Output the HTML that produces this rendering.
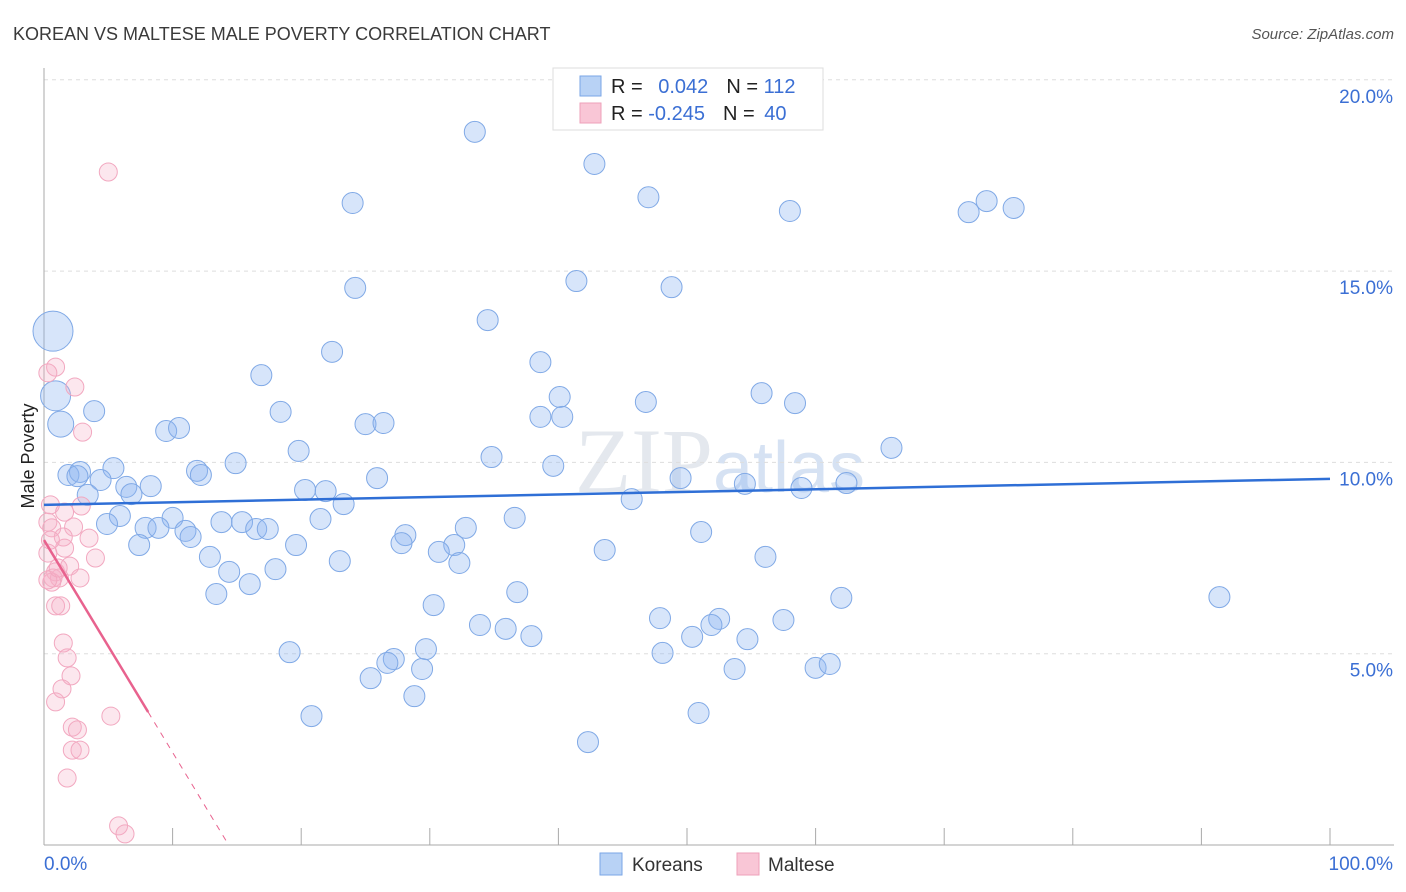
<!DOCTYPE html>
<html><head><meta charset="utf-8"><style>
body{margin:0;background:#fff;font-family:"Liberation Sans",sans-serif;}
svg{display:block}
</style></head><body>
<svg id="chart" width="1406" height="892" xmlns="http://www.w3.org/2000/svg">
<text x="13" y="40" font-size="18" fill="#3a3a3a">KOREAN VS MALTESE MALE POVERTY CORRELATION CHART</text>
<text x="1394" y="39" font-size="15" fill="#555" text-anchor="end" font-style="italic">Source: ZipAtlas.com</text>
<text x="720" y="492" font-size="92" fill="#e4e8ee" text-anchor="middle" font-family="Liberation Serif">ZIP<tspan fill="#d6e2f3" font-family="Liberation Sans" font-size="72">atlas</tspan></text>
<g id="grid"></g><g id="axes"></g><g id="pts"></g><g id="trend"></g>
<text transform="translate(34,456) rotate(-90)" font-size="18" fill="#222" text-anchor="middle">Male Poverty</text>
<g>
<rect x="553" y="68" width="270" height="62" fill="#fff" stroke="#ddd"/>
<rect x="580" y="76" width="21" height="20" fill="#b8d2f5" stroke="#7aa6e6"/>
<rect x="580" y="103" width="21" height="20" fill="#f9c6d6" stroke="#eea0ba"/>
<text x="611" y="93" font-size="20" fill="#222">R = <tspan fill="#3b6fd4" dx="10">0.042</tspan><tspan dx="18" fill="#222">N = </tspan><tspan fill="#3b6fd4">112</tspan></text>
<text x="611" y="120" font-size="20" fill="#222">R = <tspan fill="#3b6fd4">-0.245</tspan><tspan dx="18" fill="#222">N = </tspan><tspan fill="#3b6fd4" dx="4">40</tspan></text>
</g>
<g>
<rect x="600" y="853" width="22" height="22" fill="#b8d2f5" stroke="#7aa6e6"/>
<text x="632" y="871" font-size="19" fill="#333">Koreans</text>
<rect x="737" y="853" width="22" height="22" fill="#f9c6d6" stroke="#eea0ba"/>
<text x="768" y="871" font-size="19" fill="#333">Maltese</text>
</g>
</svg>
<script>
const yTicks=[5,10,15,20];
const yTickLabels=["5.0%","10.0%","15.0%","20.0%"];
const koreanX=[33.5,42.8,47.0,24.0,58.0,71.9,73.3,75.4,41.4,48.8,24.2,34.5,22.4,38.6,16.9,40.1,46.8,55.8,58.4,3.9,18.4,38.6,40.3,25.0,26.4,9.5,10.5,19.8,34.8,65.9,14.9,39.6,5.4,11.9,12.2,1.9,2.8,2.6,4.4,25.9,49.5,6.4,6.8,8.3,3.4,20.3,21.9,54.5,58.9,62.4,45.7,23.3,5.9,4.9,10.0,13.8,15.4,16.5,17.4,21.5,36.6,32.8,7.9,8.9,11.0,11.4,28.1,27.8,19.6,31.9,7.4,51.1,30.7,43.6,56.1,12.9,23.0,32.3,14.4,18.0,16.0,13.4,36.8,30.3,62.0,91.4,47.9,52.5,51.9,57.5,33.9,35.9,37.9,50.4,54.7,19.1,29.7,48.1,27.2,26.7,29.4,53.7,60.0,61.1,25.4,28.8,20.8,50.9,42.3,0.7,0.9,1.3];
const koreanY=[18.64,17.8,16.93,16.78,16.57,16.54,16.83,16.65,14.74,14.58,14.56,13.72,12.89,12.62,12.28,11.71,11.58,11.81,11.55,11.34,11.32,11.19,11.19,11.0,11.03,10.82,10.9,10.3,10.14,10.38,9.98,9.91,9.85,9.78,9.67,9.67,9.75,9.64,9.54,9.59,9.59,9.36,9.17,9.38,9.15,9.28,9.25,9.44,9.33,9.46,9.04,8.91,8.6,8.39,8.55,8.44,8.44,8.26,8.26,8.52,8.55,8.29,8.29,8.29,8.21,8.05,8.1,7.89,7.84,7.84,7.84,8.18,7.66,7.71,7.53,7.53,7.42,7.37,7.14,7.21,6.82,6.56,6.61,6.27,6.46,6.48,5.93,5.91,5.75,5.88,5.75,5.65,5.46,5.44,5.38,5.04,5.12,5.02,4.86,4.76,4.6,4.6,4.63,4.73,4.36,3.89,3.37,3.45,2.69,13.43,11.74,11.0];
const malteseX=[5.0,0.9,0.3,2.4,3.0,0.5,2.9,1.6,0.3,0.6,2.3,3.5,1.5,1.6,0.3,4.0,2.0,0.9,1.2,2.8,0.7,0.6,0.9,1.3,1.5,1.8,2.1,1.4,0.9,5.2,2.2,2.6,2.2,2.8,1.8,5.8,6.3,0.5,0.3,1.1];
const malteseY=[17.59,12.49,12.34,11.97,10.79,8.89,8.86,8.7,8.44,8.29,8.31,8.02,8.05,7.76,7.63,7.5,7.29,7.14,6.98,6.98,6.98,6.87,6.25,6.25,5.28,4.89,4.42,4.08,3.74,3.37,3.08,3.01,2.48,2.48,1.75,0.5,0.29,7.97,6.93,7.24];
const koreanTrend=[8.89,0.0068];
const malteseTrend=[7.97,-0.555];
const NS='http://www.w3.org/2000/svg';
const X=v=>44+v*12.86, Y=v=>845-v*38.26;
function mk(p,t,a){const e=document.createElementNS(NS,t);for(const k in a)e.setAttribute(k,a[k]);document.getElementById(p).appendChild(e);return e;}
yTicks.forEach((t,i)=>{
 let g=mk('grid','line',{x1:44,x2:1394,y1:Y(t),y2:Y(t),stroke:'#ddd','stroke-dasharray':'4,4'});
 
 
 let l=mk('grid','text',{x:1393,y:Y(t)+23,'font-size':19,fill:'#3b6fd4','text-anchor':'end'});
 l.textContent=yTickLabels[i];
 
 
});
mk('axes','line',{x1:44,x2:44,y1:68,y2:845,stroke:'#aaa'});
mk('axes','line',{x1:44,x2:1394,y1:845,y2:845,stroke:'#aaa'});
for(let i=0;i<=10;i++){let t=mk('axes','line',{x1:X(i*10),x2:X(i*10),y1:828,y2:845,stroke:'#aaa'});}
let a=mk('axes','text',{x:44,y:870,'font-size':19,fill:'#3b6fd4'});a.textContent='0.0%';


let b=mk('axes','text',{x:1393,y:870,'font-size':19,fill:'#3b6fd4','text-anchor':'end'});b.textContent='100.0%';


const n=koreanX.length;
koreanX.forEach((x,i)=>{
 const r=i==n-3?20:i==n-2?15:i==n-1?13:10.5;
 const c=mk('pts','circle',{cx:X(x),cy:Y(koreanY[i]),r:r,fill:'rgba(140,180,240,0.35)',stroke:'#80a9e6','stroke-width':1});
 
 
});
malteseX.forEach((x,i)=>{
 const c=mk('pts','circle',{cx:X(x),cy:Y(malteseY[i]),r:9,fill:'rgba(245,175,198,0.3)',stroke:'#f2a8c0','stroke-width':1});
 
 
});
let kt=mk('trend','line',{x1:X(0),y1:Y(koreanTrend[0]),x2:X(100),y2:Y(koreanTrend[0]+100*koreanTrend[1]),stroke:'#2f6fd6','stroke-width':2.5});


const mEnd=8.1, mZero=-malteseTrend[0]/malteseTrend[1];
let mt=mk('trend','line',{x1:X(0),y1:Y(malteseTrend[0]),x2:X(mEnd),y2:Y(malteseTrend[0]+mEnd*malteseTrend[1]),stroke:'#e8628e','stroke-width':2.5});


let md=mk('trend','line',{x1:X(mEnd),y1:Y(malteseTrend[0]+mEnd*malteseTrend[1]),x2:X(mZero),y2:Y(0),stroke:'#e8628e','stroke-width':1,'stroke-dasharray':'6,6'});


</script>
</body></html>
